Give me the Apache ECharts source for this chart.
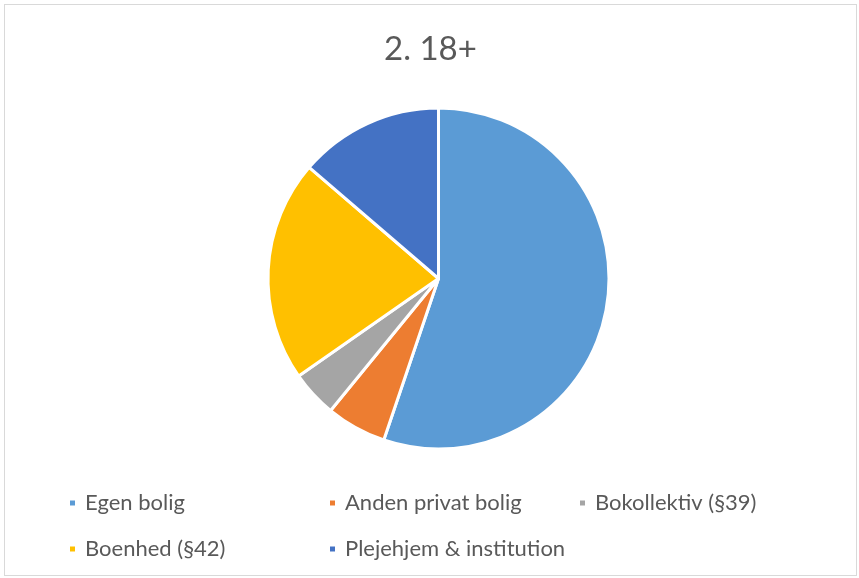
<!DOCTYPE html>
<html><head><meta charset="utf-8">
<script src="https://cdn.jsdelivr.net/npm/echarts@6/dist/echarts.min.js"></script>
<style>html,body{margin:0;padding:0;background:#fff}
#c{position:absolute;left:4px;top:4px;width:853px;height:572px;border:1px solid #d9d9d9;box-sizing:border-box}
</style></head><body><div id="c"></div>
<script>
const title = '2. 18+';
const categories = ['Egen bolig','Anden privat bolig','Bokollektiv (§39)','Boenhed (§42)','Plejehjem & institution'];
const values = [55.2, 5.7, 4.4, 21.0, 13.7];
const colors = ['#5B9BD5','#ED7D31','#A5A5A5','#FFC000','#4472C4'];
const legendPos = [[63,487],[323,487],[573,487],[63,533],[323,533]];
const chart = echarts.init(document.getElementById('c'));
const font = 'Lato, "Open Sans", sans-serif';
chart.setOption({
  animation:false,
  title:{text:title,left:'center',top:23,textStyle:{fontFamily:font,fontSize:33,fontWeight:'normal',color:'#595959'}},
  legend: categories.map((n,i)=>({data:[n],left:legendPos[i][0],top:legendPos[i][1],padding:0,itemWidth:7,itemHeight:7,icon:'rect',itemGap:8,
    textStyle:{fontFamily:font,fontSize:22,color:'#595959',padding:[0,0,0,4]}})),
  series:[{type:'pie',center:[433.5,273.5],radius:170.5,startAngle:90,clockwise:true,
    label:{show:false},labelLine:{show:false},
    itemStyle:{borderColor:'#fff',borderWidth:3},
    data:categories.map((n,i)=>({name:n,value:values[i],itemStyle:{color:colors[i]}}))}]
});
</script></body></html>
